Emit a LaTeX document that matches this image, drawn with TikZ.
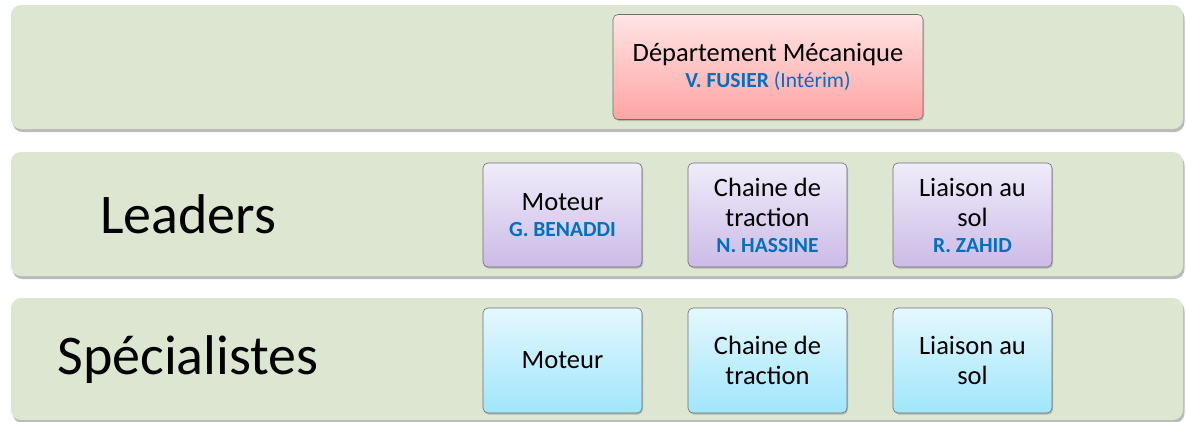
\documentclass[tikz,border=0pt]{standalone}
\usepackage{fontspec}
\setmainfont{Carlito}
\usetikzlibrary{shadows}
\definecolor{bandgreen}{HTML}{DDE6D0}
\definecolor{pinktop}{HTML}{FFE4E4}
\definecolor{pinkbot}{HTML}{FFA4A4}
\definecolor{lavtop}{HTML}{F0ECFA}
\definecolor{lavbot}{HTML}{CBBBE6}
\definecolor{cyantop}{HTML}{E4F8FE}
\definecolor{cyanbot}{HTML}{A0E6FB}
\definecolor{nameblue}{HTML}{0070C0}
\definecolor{boxedge}{HTML}{6E6E6E}
\newcommand{\subname}[1]{{\fontsize{21.5}{24}\selectfont\bfseries\color{nameblue}#1}}
\tikzset{
  band/.style={fill=bandgreen, rounded corners=10pt,
    drop shadow={shadow xshift=1.5pt, shadow yshift=-3pt, opacity=0.45, fill=black!60}},
  unitbox/.style={draw=boxedge, line width=0.6pt, rounded corners=5pt,
    minimum width=159pt, minimum height=104pt, align=center,
    font=\fontsize{26.5}{30}\selectfont, inner sep=2pt,
    drop shadow={shadow xshift=1pt, shadow yshift=-1.5pt, opacity=0.35, fill=black!60}},
  headbox/.style={unitbox, top color=pinktop, bottom color=pinkbot, minimum width=310pt, minimum height=105pt},
  leadbox/.style={unitbox, top color=lavtop, bottom color=lavbot},
  specbox/.style={unitbox, top color=cyantop, bottom color=cyanbot, minimum height=105pt},
  rowlabel/.style={font=\fontsize{56}{64}\selectfont, inner sep=0pt}
}
\begin{document}
\begin{tikzpicture}[x=1pt,y=-1pt]
\useasboundingbox (0,0) rectangle (1186,421);
\fill[white] (0,0) rectangle (1186,421);
% bands
\path[band] (11,5) rectangle (1183,129);
\path[band] (11,152) rectangle (1183,276);
\path[band] (11,298) rectangle (1183,420);
% row labels
\node[rowlabel] (lblLead) at (188,214) {Leaders};
\node[rowlabel] (lblSpec) at (188,360) {Spécialistes};
% head
\node[headbox] (dept) at (768,67) {Département Mécanique\\[-4pt]{\fontsize{21.5}{24}\selectfont\color{nameblue}\textbf{V. FUSIER} (Intérim)}};
% leaders
\node[leadbox] (lMot) at (562.5,215) {Moteur\\[-4pt]\subname{G. BENADDI}};
\node[leadbox] (lCha) at (767.5,215) {Chaine de\\traction\\[-4pt]\subname{N. HASSINE}};
\node[leadbox] (lLia) at (972.5,215) {Liaison au\\sol\\[-4pt]\subname{R. ZAHID}};
% specialists
\node[specbox] (sMot) at (562.5,360.5) {Moteur};
\node[specbox] (sCha) at (767.5,360.5) {Chaine de\\traction};
\node[specbox] (sLia) at (972.5,360.5) {Liaison au\\sol};
\end{tikzpicture}
\end{document}
